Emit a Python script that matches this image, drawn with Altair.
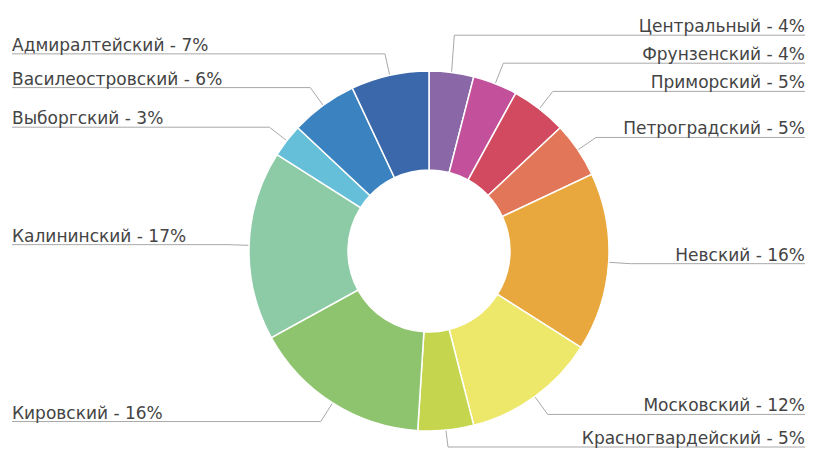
import altair as alt
import pandas as pd
import numpy as np

# ---- data ----
districts = ["Центральный", "Фрунзенский", "Приморский", "Петроградский", "Невский",
             "Московский", "Красногвардейский", "Кировский", "Калининский",
             "Выборгский", "Василеостровский", "Адмиралтейский"]
shares = [4, 4, 5, 5, 16, 12, 5, 16, 17, 3, 6, 7]
colors = ["#8a68a8", "#c2509a", "#d24a60", "#e27658", "#e9a83e", "#ede76a",
          "#c5d64e", "#8fc46e", "#8ccba5", "#66bfd8", "#3b83c0", "#3a68aa"]

# ---- layout ----
W, H = 798, 441
CX, CY = 421, 243
R_OUT, R_IN = 180, 81
R_ELBOW = 202
GAP = 28
LEFT_X, RIGHT_X = 4, 797
FONT = "DejaVu Sans"
FS = 17

n = len(shares)
total = float(sum(shares))
cum = np.cumsum([0] + shares)
mid = (cum[:-1] + np.array(shares) / 2.0) / total * 2 * np.pi
ax = CX + R_OUT * np.sin(mid)
ay = CY - R_OUT * np.cos(mid)
ex = CX + R_ELBOW * np.sin(mid)
ey = CY - R_ELBOW * np.cos(mid)
side = np.where(np.sin(mid) >= 0, 1, -1)
ly = ey.copy()
for s in (1, -1):
    idx = [i for i in range(n) if side[i] == s]
    upper = sorted([i for i in idx if ey[i] < CY], key=lambda i: -ey[i])
    for a, b in zip(upper, upper[1:]):
        if ly[a] - ly[b] < GAP:
            ly[b] = ly[a] - GAP
    lower = sorted([i for i in idx if ey[i] >= CY], key=lambda i: ey[i])
    for a, b in zip(lower, lower[1:]):
        if ly[b] - ly[a] < GAP:
            ly[b] = ly[a] + GAP
ly = np.minimum(ly, H - 2)

pie_df = pd.DataFrame({"district": districts, "share": shares, "idx": list(range(n))})

line_rows = []
label_rows = []
for i in range(n):
    end_x = RIGHT_X if side[i] > 0 else LEFT_X
    pts = [(end_x, ly[i]), (ex[i], ly[i]), (ax[i], ay[i])]
    for k, (px, py) in enumerate(pts):
        line_rows.append({"district": districts[i], "k": k, "x": float(px), "y": float(py)})
    label_rows.append({"label": f"{districts[i]} - {shares[i]}%", "side": int(side[i]),
                       "x": float(end_x), "y": float(ly[i] - 3)})
line_df = pd.DataFrame(line_rows)
label_df = pd.DataFrame(label_rows)

xs = alt.Scale(domain=[0, W], nice=False, zero=False)
ys = alt.Scale(domain=[0, H], nice=False, zero=False, reverse=True)

pie = alt.Chart(pie_df).mark_arc(innerRadius=R_IN, outerRadius=R_OUT,
                                 stroke="#ffffff", strokeWidth=1.5).encode(
    theta=alt.Theta("share:Q", stack=True),
    color=alt.Color("district:N", scale=alt.Scale(domain=districts, range=colors), legend=None),
    order=alt.Order("idx:Q"),
    x=alt.value(CX),
    y=alt.value(CY),
)

leaders = alt.Chart(line_df).mark_line(color="#a8a8a8", strokeWidth=1).encode(
    x=alt.X("x:Q", scale=xs, axis=None),
    y=alt.Y("y:Q", scale=ys, axis=None),
    detail="district:N",
    order="k:Q",
)

left_text = alt.Chart(label_df).transform_filter("datum.side < 0").mark_text(
    align="left", baseline="alphabetic", font=FONT, fontSize=FS, color="#444444").encode(
    x=alt.X("x:Q", scale=xs, axis=None),
    y=alt.Y("y:Q", scale=ys, axis=None),
    text="label:N",
)
right_text = alt.Chart(label_df).transform_filter("datum.side > 0").mark_text(
    align="right", baseline="alphabetic", font=FONT, fontSize=FS, color="#444444").encode(
    x=alt.X("x:Q", scale=xs, axis=None),
    y=alt.Y("y:Q", scale=ys, axis=None),
    text="label:N",
)

chart = alt.layer(leaders, pie, left_text, right_text).properties(
    width=W, height=H, autosize=alt.AutoSizeParams(type="none"), padding=0,
    background="#ffffff",
).configure_view(stroke=None)

chart.save("out.html", embed_options={"renderer": "svg", "actions": False})
